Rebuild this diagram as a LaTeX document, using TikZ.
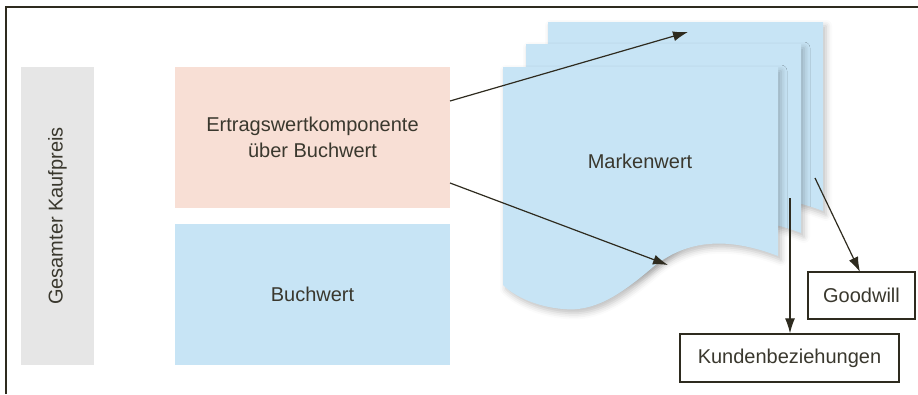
\documentclass[tikz,border=0pt]{standalone}
\usepackage{fontspec}
\setmainfont{Liberation Sans}
\usetikzlibrary{arrows.meta,shadows.blur}
\definecolor{linec}{HTML}{2E2B1F}
\definecolor{textc}{HTML}{3A382E}
\definecolor{docblue}{HTML}{C7E4F5}
\definecolor{pinkc}{HTML}{F8DFD5}
\definecolor{grayc}{HTML}{E6E6E6}
\tikzset{
  lbl/.style={font=\fontsize{20}{26}\selectfont, text=textc, align=center, inner sep=0pt},
  fillbox/.style={lbl, draw=none, minimum width=275pt, minimum height=141pt},
  outbox/.style={lbl, draw=linec, line width=1.3pt, fill=white},
  conn/.style={draw=linec, line width=1.2pt, -{Latex[length=15pt,width=10pt]}},
  docpage/.pic={
    \fill[docblue, blur shadow={shadow xshift=3pt, shadow yshift=-4pt, shadow blur radius=6pt, shadow opacity=25}]
      (0,0) -- (275,0) -- (275,189)
      .. controls (225,170) and (185,172) .. (150,200)
      .. controls (115,230) and (90,245) .. (60,242)
      .. controls (35,240) and (12,230) .. (0,218) -- cycle;
  }
}
\begin{document}
\begin{tikzpicture}[x=1pt,y=-1pt]
\useasboundingbox (0,0) rectangle (918,394);
% frame
\draw[linec, line width=1.5pt] (6,394) -- (6,7) -- (918,7);
% left column
\node[lbl, fill=grayc, minimum width=73pt, minimum height=298pt] (gk) at (57.5,216) {};
\node[lbl, rotate=90] (gkt) at (57.5,216) {Gesamter Kaufpreis};
\node[fillbox, fill=pinkc] (ek) at (312.5,137.5) {Ertragswertkomponente\\über Buchwert};
\node[fillbox, fill=docblue] (bw) at (312.5,294.5) {Buchwert};
% documents
\pic at (548,22) {docpage};
\pic at (526,44) {docpage};
\pic at (503,67) {docpage};
\node[lbl] (mw) at (640,161) {Markenwert};
% boxes
\node[outbox, minimum width=107pt, minimum height=47pt] (gw) at (861.5,295.5) {Goodwill};
\node[outbox, minimum width=219pt, minimum height=48pt] (kb) at (789.5,358) {Kundenbeziehungen};
% connector ends
\coordinate (e1) at (450,101);
\coordinate (t1) at (688,32);
\coordinate (e2) at (450,183);
\coordinate (t2) at (668,265);
\coordinate (s3) at (790,198);
\coordinate (s4) at (815,178);
\draw[conn] (e1) -- (t1);
\draw[conn] (e2) -- (t2);
\draw[conn] (s3) -- (s3 |- kb.north);
\draw[conn] (s4) -- (860,272);
\end{tikzpicture}
\end{document}
